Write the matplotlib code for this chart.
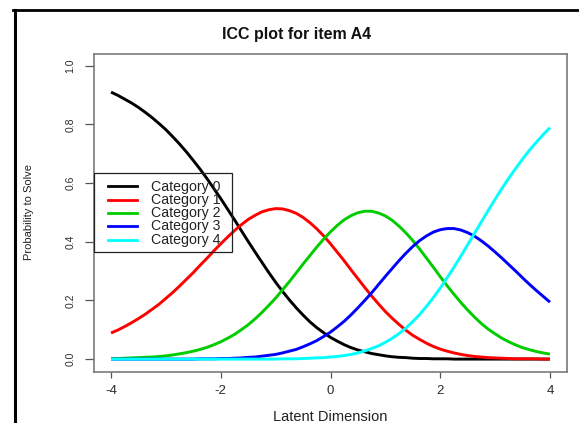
import matplotlib
matplotlib.use("Agg")
import matplotlib.pyplot as plt
from matplotlib.lines import Line2D
from matplotlib.patches import Rectangle

plt.rcParams['font.family'] = ['Liberation Sans', 'DejaVu Sans']

# Latent dimension grid and category probabilities
theta = [-4.0, -3.875, -3.75, -3.625, -3.5, -3.375, -3.25, -3.125,
         -3.0, -2.875, -2.75, -2.625, -2.5, -2.375, -2.25, -2.125,
         -2.0, -1.875, -1.75, -1.625, -1.5, -1.375, -1.25, -1.125,
         -1.0, -0.875, -0.75, -0.625, -0.5, -0.375, -0.25, -0.125,
         0.0, 0.125, 0.25, 0.375, 0.5, 0.625, 0.75, 0.875,
         1.0, 1.125, 1.25, 1.375, 1.5, 1.625, 1.75, 1.875,
         2.0, 2.125, 2.25, 2.375, 2.5, 2.625, 2.75, 2.875,
         3.0, 3.125, 3.25, 3.375, 3.5, 3.625, 3.75, 3.875, 4.0]
cat0 = [0.910, 0.899, 0.886, 0.873, 0.858, 0.841, 0.823, 0.803, 0.782, 0.758,
        0.733, 0.706, 0.677, 0.647, 0.615, 0.581, 0.547, 0.511, 0.475, 0.438,
        0.401, 0.365, 0.330, 0.295, 0.262, 0.231, 0.202, 0.175, 0.150, 0.127,
        0.107, 0.090, 0.074, 0.061, 0.049, 0.039, 0.031, 0.025, 0.019, 0.015,
        0.011, 0.008, 0.006, 0.005, 0.003, 0.002, 0.002, 0.001, 0.001, 0.001,
        0.000, 0.000, 0.000, 0.000, 0.000, 0.000, 0.000, 0.000, 0.000, 0.000,
        0.000, 0.000, 0.000, 0.000, 0.000]
cat1 = [0.089, 0.099, 0.111, 0.124, 0.138, 0.153, 0.170, 0.187, 0.207, 0.227,
        0.249, 0.272, 0.295, 0.320, 0.344, 0.369, 0.393, 0.416, 0.438, 0.458,
        0.476, 0.490, 0.502, 0.509, 0.513, 0.512, 0.506, 0.497, 0.483, 0.465,
        0.444, 0.420, 0.393, 0.364, 0.335, 0.304, 0.274, 0.244, 0.215, 0.188,
        0.162, 0.139, 0.118, 0.098, 0.081, 0.067, 0.054, 0.043, 0.034, 0.027,
        0.021, 0.016, 0.012, 0.009, 0.007, 0.005, 0.004, 0.003, 0.002, 0.001,
        0.001, 0.001, 0.001, 0.000, 0.000]
cat2 = [0.002, 0.002, 0.003, 0.004, 0.005, 0.006, 0.007, 0.009, 0.011, 0.014,
        0.018, 0.022, 0.027, 0.033, 0.040, 0.049, 0.059, 0.071, 0.084, 0.100,
        0.117, 0.137, 0.159, 0.183, 0.208, 0.236, 0.264, 0.294, 0.324, 0.353,
        0.382, 0.409, 0.434, 0.456, 0.475, 0.489, 0.499, 0.504, 0.504, 0.498,
        0.488, 0.473, 0.453, 0.430, 0.404, 0.375, 0.344, 0.313, 0.281, 0.250,
        0.221, 0.193, 0.167, 0.143, 0.121, 0.102, 0.086, 0.071, 0.059, 0.048,
        0.039, 0.032, 0.026, 0.021, 0.017]
cat3 = [0.000, 0.000, 0.000, 0.000, 0.000, 0.000, 0.000, 0.000, 0.000, 0.000,
        0.000, 0.000, 0.000, 0.001, 0.001, 0.001, 0.002, 0.002, 0.003, 0.004,
        0.006, 0.007, 0.010, 0.013, 0.016, 0.021, 0.027, 0.033, 0.042, 0.052,
        0.063, 0.077, 0.092, 0.110, 0.129, 0.151, 0.175, 0.200, 0.226, 0.254,
        0.282, 0.309, 0.336, 0.361, 0.384, 0.404, 0.420, 0.433, 0.441, 0.445,
        0.445, 0.440, 0.431, 0.419, 0.403, 0.385, 0.365, 0.344, 0.322, 0.300,
        0.277, 0.255, 0.234, 0.214, 0.194]
cat4 = [0.000, 0.000, 0.000, 0.000, 0.000, 0.000, 0.000, 0.000, 0.000, 0.000,
        0.000, 0.000, 0.000, 0.000, 0.000, 0.000, 0.000, 0.000, 0.000, 0.000,
        0.000, 0.000, 0.000, 0.000, 0.000, 0.001, 0.001, 0.001, 0.002, 0.003,
        0.004, 0.005, 0.007, 0.009, 0.012, 0.016, 0.021, 0.028, 0.036, 0.045,
        0.057, 0.071, 0.087, 0.106, 0.128, 0.152, 0.180, 0.210, 0.242, 0.277,
        0.313, 0.351, 0.390, 0.429, 0.468, 0.507, 0.545, 0.582, 0.617, 0.650,
        0.682, 0.712, 0.739, 0.765, 0.789]

series = [cat0, cat1, cat2, cat3, cat4]
labels = ["Category 0", "Category 1", "Category 2", "Category 3", "Category 4"]
colors = ["#000000", "#FF0000", "#00CD00", "#0000FF", "#00FFFF"]
xticks = [-4, -2, 0, 2, 4]
yticks = [0.0, 0.2, 0.4, 0.6, 0.8, 1.0]

W, H = 579, 423
def fx(px):
    return px / W
def fy(py):
    return 1 - py / H

fig = plt.figure(figsize=(W / 100, H / 100), dpi=100)
fig.patch.set_facecolor('white')

ax = fig.add_axes([fx(94), fy(372), fx(567) - fx(94), fy(54) - fy(372)])
for s, c in zip(series, colors):
    ax.plot(theta, s, color=c, lw=2.1, solid_capstyle='butt', solid_joinstyle='round')

ax.set_xlim(-4.31, 4.31)
ax.set_ylim(-0.044, 1.04)
ax.set_xticks(xticks)
ax.set_xticklabels([str(t) for t in xticks])
ax.set_yticks(yticks)
ax.set_yticklabels(["%.1f" % t for t in yticks])
for sp in ax.spines.values():
    sp.set_color('#7a7a7a')
    sp.set_linewidth(1.2)
ax.tick_params(axis='x', length=4.5, width=0.9, color='#555555', pad=5,
               labelsize=9.5, labelcolor='#2b2b2b')
ax.tick_params(axis='y', length=6.5, width=0.9, color='#555555', pad=7,
               labelsize=7.5, labelcolor='#2b2b2b')
plt.setp(ax.get_yticklabels(), rotation=90, va='center')

# Manual legend (transparent, curves show through)
fig.add_artist(Rectangle((fx(94), fy(252)), fx(232) - fx(94), fy(173) - fy(252),
                         transform=fig.transFigure, fill=False, edgecolor='#222222', lw=0.9))
for i, (lab, c) in enumerate(zip(labels, colors)):
    yy = 186.5 + i * 13.3
    fig.add_artist(Line2D([fx(108), fx(137)], [fy(yy), fy(yy)], color=c, lw=2.0,
                          transform=fig.transFigure))
    fig.text(fx(151), fy(yy), lab, fontsize=10.2, color='#222222', ha='left', va='center')

fig.text(fx(297), fy(34), "ICC plot for item A4", fontsize=11.5, fontweight='bold',
         ha='center', va='center', color='#111111')
fig.text(fx(330), fy(417), "Latent Dimension", fontsize=10.5, ha='center', va='center',
         color='#222222')
fig.text(fx(29), fy(212), "Probability to Solve", fontsize=8, rotation=90,
         ha='center', va='center', color='#222222')

# Black frame of the screenshot (top and left)
fig.add_artist(Line2D([fx(13), 1.0], [fy(10.5), fy(10.5)], color='black', lw=2.0,
                      transform=fig.transFigure))
fig.add_artist(Line2D([fx(14.5), fx(14.5)], [fy(10.5), 0.0], color='black', lw=2.2,
                      transform=fig.transFigure))

fig.savefig("out.png", dpi=100)
